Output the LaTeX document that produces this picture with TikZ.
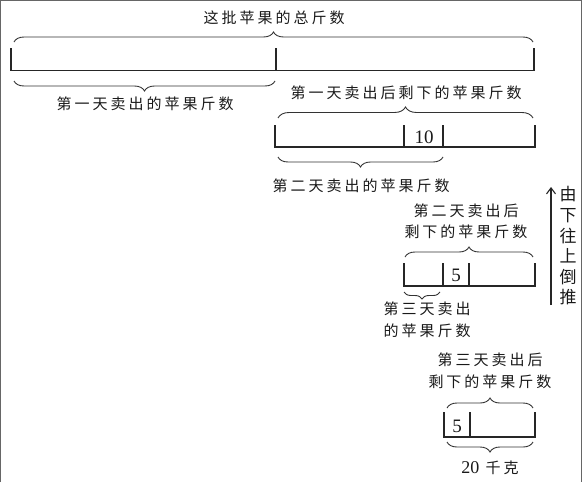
\documentclass[tikz,border=0pt]{standalone}
\usepackage{fontspec}
\setmainfont{Liberation Serif}
\newfontfamily\cjk[LetterSpace=20]{Noto Sans CJK SC}
\newfontfamily\cjkv{Noto Sans CJK SC}
\usepackage{tikz}
\usetikzlibrary{arrows.meta,decorations.pathreplacing}

\tikzset{
	lbl/.style={font=\cjk\fontsize{15}{21.5}\selectfont, text=black!90, align=center, inner sep=0pt},
	num/.style={font=\fontsize{19}{19}\selectfont, text=black!90, inner sep=0pt},
	bar/.style={line width=1.2pt, draw=black!85},
	brc/.style={decorate, decoration={brace, amplitude=#1}, line width=0.9pt, draw=black!80},
	brc/.default=10pt
}

\begin{document}
\begin{tikzpicture}[x=1pt, y=-1pt]
		\useasboundingbox (0,0) rectangle (583,482);
		% frame
		\draw[black!60, line width=1.5pt] (0.7,482) -- (0.7,0.7) -- (581.5,0.7) -- (581.5,482);
		
		% Bars
		\draw[bar] (11,48) -- (11,70.5) -- (534,70.5) -- (534,48);
		\draw[bar] (276,48) -- (276,70.5);
		
		\draw[bar] (275,125) -- (275,147) -- (535,147) -- (535,125);
		\foreach \x in {404,443} \draw[bar] (\x,125) -- (\x,147);
		
		\draw[bar] (404,263) -- (404,286) -- (535,286) -- (535,263);
		\foreach \x in {443,469} \draw[bar] (\x,263) -- (\x,286);
		
		\draw[bar] (444,412) -- (444,437) -- (535,437) -- (535,412);
		\draw[bar] (470,412) -- (470,437);
		
		\node[num] (ten) at (424,137) {10};
		\node[num] (five) at (456,275) {5};
		\node[num] (fivelast) at (457,426) {5};
		
		% Braces
		\draw[brc] (14,42) -- (533,42);
		\draw[brc] (275,81) -- (14,81);
		\draw[brc=11pt] (278,118) -- (533,118);
		\draw[brc] (443,157) -- (278,157);
		\draw[brc] (405,257) -- (533,257);
		\draw[brc=7pt] (440,292) -- (404,292);
		\draw[brc] (447,408) -- (533,408);
		\draw[brc] (533,442) -- (447,442);
		
		% Labels
		\node[lbl] (total) at (274,18) {这批苹果的总斤数};
		\node[lbl] (firstsold) at (145,104) {第一天卖出的苹果斤数};
		\node[lbl] (firstleft) at (406,93) {第一天卖出后剩下的苹果斤数};
		\node[lbl] (secondsold) at (361,186) {第二天卖出的苹果斤数};
		\node[lbl] (secondleft) at (466,221.5) {第二天卖出后\\剩下的苹果斤数};
		\node[lbl] (thirdsold) at (427,320) {第三天卖出\\的苹果斤数};
		\node[lbl] (thirdleft) at (490,371) {第三天卖出后\\剩下的苹果斤数};
		\node[lbl] (weight) at (490,468) {{\fontsize{18}{18}\selectfont\rmfamily 20} 千克};
		
		% backwards arrow
		\coordinate (up) at (551,187);
		\coordinate (down) at (551,305);
		\draw[line width=1.1pt, black!85, -{Straight Barb[length=6pt,width=9pt]}] (down) -- (up);
		\node[font=\cjkv\fontsize{17}{20.6}\selectfont, text=black!90, align=center, inner sep=0pt] (back) at (568,246) {由\\下\\往\\上\\倒\\推};
	\end{tikzpicture}
\end{document}
